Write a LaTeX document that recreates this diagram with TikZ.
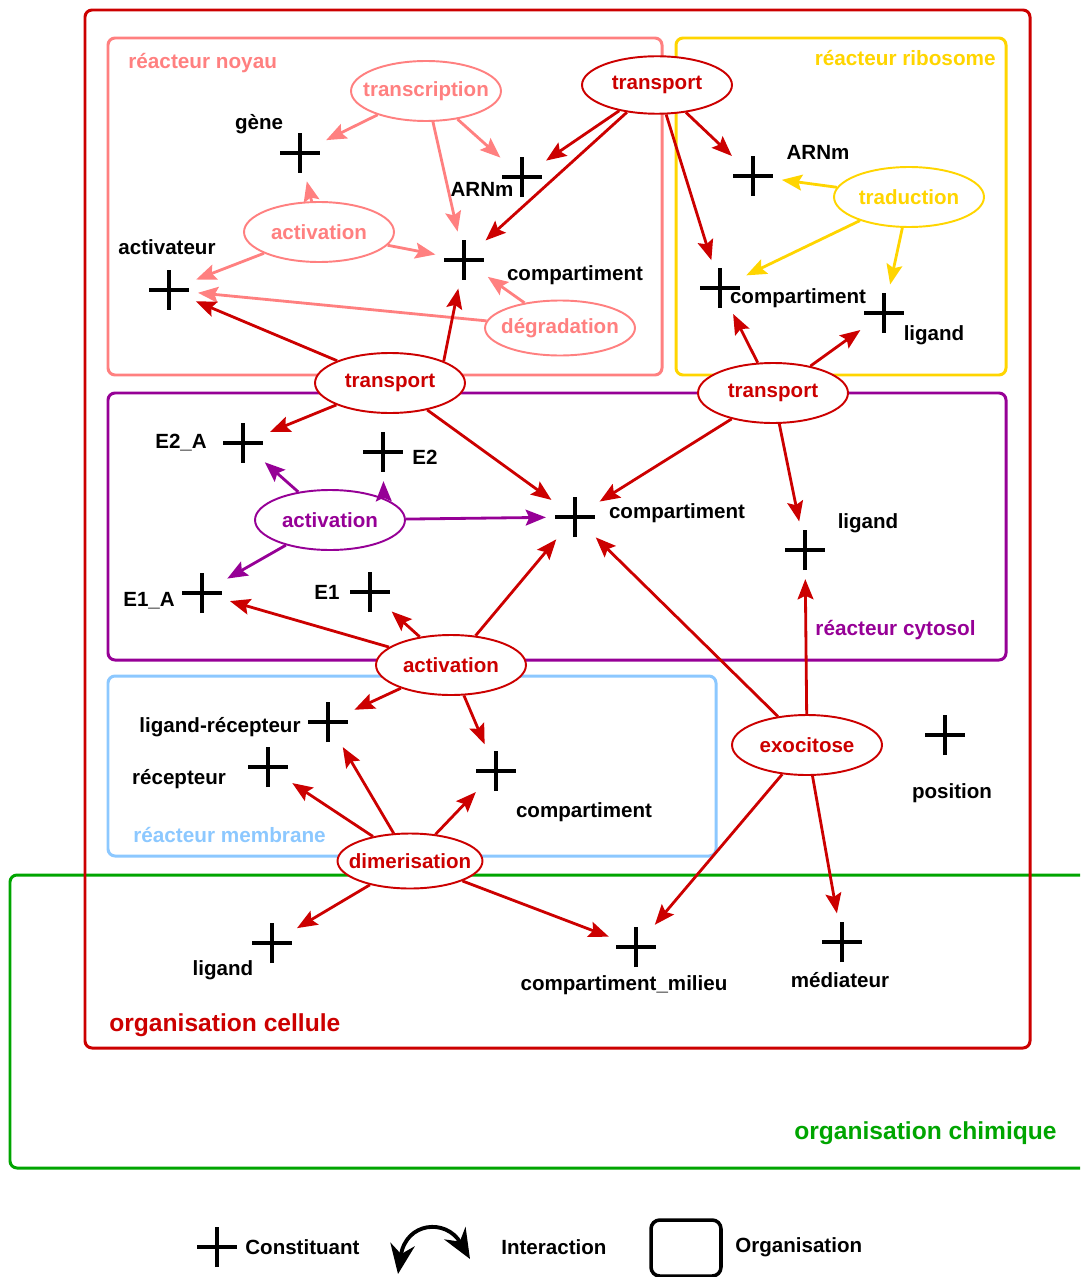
\documentclass[tikz,border=0pt]{standalone}
\usepackage{fontspec}
\setmainfont{Liberation Sans}
\usetikzlibrary{shapes.geometric, arrows.meta, positioning, calc}

\definecolor{cellred}{RGB}{204,0,0}
\definecolor{noypink}{RGB}{255,128,128}
\definecolor{ribyellow}{RGB}{255,213,0}
\definecolor{cytpurple}{RGB}{150,0,150}
\definecolor{membblue}{RGB}{140,200,255}
\definecolor{chimgreen}{RGB}{0,165,0}

\newcommand{\lblfont}{\fontsize{11.7}{13}\selectfont\bfseries}
\tikzstyle{arrow} = [line width=1.6pt,-{Stealth[length=11.5pt,width=9pt,inset=2pt]}]
\tikzstyle{interact} = [ellipse, draw, fill=white, line width=1.1pt, minimum width=3cm, minimum height=1.2cm, inner xsep=-8pt, inner ysep=0pt, font=\lblfont]
\tikzstyle{constit} = [circle, minimum size=1.15cm, inner sep=0pt, path picture={
    \draw[black,line width=2.3pt] ([xshift=-0.4cm]path picture bounding box.center) -- ([xshift=0.4cm]path picture bounding box.center)
      ([yshift=-0.4cm]path picture bounding box.center) -- ([yshift=0.4cm]path picture bounding box.center);}]
\tikzstyle{clabel} = [inner sep=0pt, text=black, font=\lblfont]
\tikzstyle{reaclabel} = [inner sep=0pt, font=\fontsize{11.8}{13}\selectfont\bfseries]
\tikzstyle{orglabel} = [inner sep=0pt, font=\fontsize{14}{16}\selectfont\bfseries]
\tikzstyle{orgbox} = [line width=1.7pt, rounded corners=4pt]

\begin{document}
\begin{tikzpicture}[x=0.02cm,y=-0.02cm]
    \useasboundingbox (0,0) rectangle (1080,1277);

    % organisations et reacteurs
    \draw[orgbox,draw=chimgreen] (1080,875) -- (10,875) -- (10,1168) -- (1080,1168);
    \draw[orgbox,draw=cellred] (85,10) rectangle (1030,1048);
    \draw[orgbox,draw=noypink] (108,38) rectangle (662,375);
    \draw[orgbox,draw=ribyellow] (676,38) rectangle (1006,375);
    \draw[orgbox,draw=cytpurple] (108,393) rectangle (1006,660);
    \draw[orgbox,draw=membblue] (108,676) rectangle (716,856);
    \node[orglabel,text=cellred,anchor=west](org_cell) at (109,1025) {organisation cellule};
    \node[orglabel,text=chimgreen,anchor=east](org_chim) at (1057,1133) {organisation chimique};
    \node[reaclabel,text=noypink,anchor=west](lab_noy) at (128,63) {réacteur noyau};
    \node[reaclabel,text=ribyellow,anchor=east](lab_rib) at (996,58) {réacteur ribosome};
    \node[reaclabel,text=cytpurple,anchor=east](lab_cyt) at (976,630) {réacteur cytosol};
    \node[reaclabel,text=membblue,anchor=west](lab_mem) at (133,835) {réacteur membrane};

    % interactions
    \node[interact,draw=noypink,text=noypink](i_transcr) at (426,91) {transcription};
    \node[interact,draw=noypink,text=noypink](i_act_noy) at (319,232) {activation};
    \node[interact,draw=noypink,text=noypink,minimum height=1.1cm](i_degr) at (560,328) {dégradation};
    \node[interact,draw=cellred,text=cellred,minimum height=1.15cm](i_tr_top) at (657,85) {transport};
    \node[interact,draw=ribyellow,text=ribyellow](i_trad) at (909,197) {traduction};
    \node[interact,draw=cellred,text=cellred](i_tr_left) at (390,383) {transport};
    \node[interact,draw=cellred,text=cellred](i_tr_right) at (773,393) {transport};
    \node[interact,draw=cytpurple,text=cytpurple](i_act_cyt) at (330,520) {activation};
    \node[interact,draw=cellred,text=cellred](i_act_mem) at (451,665) {activation};
    \node[interact,draw=cellred,text=cellred](i_exo) at (807,745) {exocitose};
    \node[interact,draw=cellred,text=cellred,minimum width=2.9cm,minimum height=1.1cm](i_dimer) at (410,861) {dimerisation};

    % constituants
    \node[constit](c_gene) at (300,153) {};
    \node[constit](c_arn_noy) at (522,177) {};
    \node[constit](c_activ) at (169,290) {};
    \node[constit](c_comp_noy) at (464,260) {};
    \node[constit](c_arn_rib) at (753,176) {};
    \node[constit](c_comp_rib) at (720,288) {};
    \node[constit](c_lig_rib) at (884,313) {};
    \node[constit](c_e2a) at (243,443) {};
    \node[constit](c_e2) at (383,452) {};
    \node[constit](c_comp_cyt) at (575,517) {};
    \node[constit](c_lig_cyt) at (805,550) {};
    \node[constit](c_e1a) at (202,593) {};
    \node[constit](c_e1) at (370,592) {};
    \node[constit](c_ligrec) at (328,722) {};
    \node[constit](c_rec) at (268,767) {};
    \node[constit](c_comp_mem) at (496,771) {};
    \node[constit](c_pos) at (945,735) {};
    \node[constit](c_lig_chim) at (272,943) {};
    \node[constit](c_milieu) at (636,947) {};
    \node[constit](c_medi) at (842,942) {};

    \node[clabel](l_gene) at (259,124) {gène};
    \node[clabel](l_arn_noy) at (482,189) {ARNm};
    \node[clabel](l_activ) at (167,247) {activateur};
    \node[clabel](l_comp_noy) at (575,275) {compartiment};
    \node[clabel](l_arn_rib) at (818,152) {ARNm};
    \node[clabel](l_comp_rib) at (798,298) {compartiment};
    \node[clabel](l_lig_rib) at (934,335) {ligand};
    \node[clabel](l_e2a) at (181,443) {E2\_A};
    \node[clabel](l_e2) at (425,457) {E2};
    \node[clabel](l_comp_cyt) at (677,513) {compartiment};
    \node[clabel](l_lig_cyt) at (868,523) {ligand};
    \node[clabel](l_e1a) at (149,601) {E1\_A};
    \node[clabel](l_e1) at (327,592) {E1};
    \node[clabel](l_ligrec) at (220,727) {ligand-récepteur};
    \node[clabel](l_rec) at (179,779) {récepteur};
    \node[clabel](l_comp_mem) at (584,812) {compartiment};
    \node[clabel](l_pos) at (952,793) {position};
    \node[clabel](l_lig_chim) at (223,970) {ligand};
    \node[clabel](l_milieu) at (624,985) {compartiment\_milieu};
    \node[clabel](l_medi) at (840,980) {médiateur};

    % fleches
    \path[arrow,noypink]
    (i_transcr) edge (c_gene)
    (i_transcr) edge (c_arn_noy)
    (i_transcr) edge (c_comp_noy)
    (i_act_noy) edge (c_gene)
    (i_act_noy) edge (c_activ)
    (i_act_noy) edge (c_comp_noy)
    (i_degr) edge (c_comp_noy)
    (i_degr) edge (c_activ);
    \path[arrow,ribyellow]
    (i_trad) edge (c_arn_rib)
    (i_trad) edge (c_comp_rib)
    (i_trad) edge (c_lig_rib);
    \path[arrow,cytpurple]
    (i_act_cyt) edge (c_e2a)
    (i_act_cyt.north east) edge (c_e2)
    (i_act_cyt) edge (c_comp_cyt)
    (i_act_cyt) edge (c_e1a);
    \path[arrow,cellred]
    (i_tr_top) edge (c_arn_noy)
    (i_tr_top) edge (c_comp_noy)
    (i_tr_top) edge (c_arn_rib)
    (i_tr_top) edge (c_comp_rib)
    (i_tr_left) edge (c_activ)
    (i_tr_left.north east) edge (c_comp_noy)
    (i_tr_left) edge (c_e2a)
    (i_tr_left) edge (c_comp_cyt)
    (i_tr_right) edge (c_comp_rib)
    (i_tr_right) edge (c_lig_rib)
    (i_tr_right) edge (c_comp_cyt)
    (i_tr_right) edge (c_lig_cyt)
    (i_act_mem) edge (c_e1a)
    (i_act_mem) edge (c_e1)
    (i_act_mem) edge (c_comp_cyt)
    (i_act_mem) edge (c_ligrec)
    (i_act_mem) edge (c_comp_mem)
    (i_exo) edge (c_comp_cyt)
    (i_exo) edge (c_lig_cyt)
    (i_exo) edge (c_milieu)
    (i_exo) edge (c_medi)
    (i_dimer) edge (c_rec)
    (i_dimer) edge (c_ligrec)
    (i_dimer) edge (c_comp_mem)
    (i_dimer) edge (c_lig_chim)
    (i_dimer) edge (c_milieu);

    % legende
    \node[constit](lg_const) at (217,1247) {};
    \node[clabel,anchor=west](lg_const_t) at (245,1247) {Constituant};
    \coordinate (lg_a) at (398,1274);
    \coordinate (lg_b) at (470,1259);
    \draw[line width=2.2pt,{Stealth[length=17pt,width=14pt]}-{Stealth[length=17pt,width=14pt]}]
    (lg_a) .. controls (406,1222) and (446,1218) .. (lg_b);
    \node[clabel,anchor=west](lg_int_t) at (501,1247) {Interaction};
    \node[draw,line width=2pt,rounded corners=5pt,minimum width=1.4cm,minimum height=1.12cm](lg_org) at (686,1248) {};
    \node[clabel,anchor=west](lg_org_t) at (735,1247) {Organisation};
\end{tikzpicture}
\end{document}
